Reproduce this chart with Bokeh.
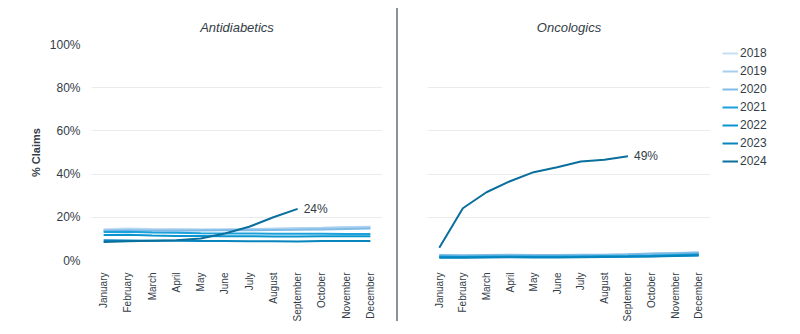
from bokeh.plotting import figure
from bokeh.models import (FactorRange, Range1d, FixedTicker, PrintfTickFormatter,
                          Legend, LegendItem, Div)
from bokeh.core.properties import value
from bokeh.layouts import row
from bokeh.embed import file_html
from bokeh.resources import INLINE
import math

months = ["January", "February", "March", "April", "May", "June", "July",
          "August", "September", "October", "November", "December"]
years = ["2018", "2019", "2020", "2021", "2022", "2023", "2024"]
colors = ["#c6def2", "#a7cfee", "#80bbe6", "#1ba1dc", "#0a94cf", "#0885bd", "#0a6f9c"]

anti_2018 = [14.5, 14.8, 14.6, 14.5, 14.4, 14.5, 14.6, 14.8, 15.0, 15.2, 15.5, 15.6]
anti_2019 = [14.0, 14.3, 14.2, 14.3, 14.2, 14.3, 14.5, 14.6, 14.8, 15.0, 15.3, 15.4]
anti_2020 = [13.8, 13.9, 13.8, 13.8, 13.9, 14.0, 14.0, 14.1, 14.2, 14.4, 14.6, 14.8]
anti_2021 = [13.2, 13.3, 13.0, 12.8, 12.6, 12.5, 12.5, 12.4, 12.4, 12.4, 12.3, 12.3]
anti_2022 = [11.8, 11.9, 11.6, 11.4, 11.3, 11.2, 11.2, 11.1, 11.1, 11.2, 11.2, 11.2]
anti_2023 = [9.4, 9.3, 9.2, 9.1, 9.0, 9.0, 8.9, 8.9, 8.8, 9.0, 9.0, 9.0]
anti_2024 = [8.6, 8.9, 9.2, 9.4, 10.2, 12.5, 15.6, 20.0, 23.9]

onc_2018 = [2.0, 1.9, 2.0, 2.1, 2.0, 2.0, 2.1, 2.2, 2.3, 2.5, 3.0, 3.5]
onc_2019 = [2.3, 2.2, 2.3, 2.4, 2.3, 2.3, 2.4, 2.5, 2.8, 3.1, 3.5, 3.8]
onc_2020 = [2.5, 2.4, 2.6, 2.7, 2.5, 2.5, 2.7, 2.7, 2.9, 3.2, 3.4, 3.6]
onc_2021 = [1.8, 1.7, 1.8, 1.9, 1.8, 1.8, 1.9, 2.0, 2.1, 2.3, 2.6, 2.9]
onc_2022 = [1.5, 1.5, 1.6, 1.7, 1.6, 1.6, 1.7, 1.8, 1.9, 2.0, 2.2, 2.4]
onc_2023 = [1.3, 1.3, 1.4, 1.5, 1.4, 1.4, 1.5, 1.6, 1.7, 1.9, 2.1, 2.3]
onc_2024 = [5.9, 24.2, 31.6, 36.7, 40.9, 43.2, 45.8, 46.6, 48.3]

y_ticks = [0, 20, 40, 60, 80, 100]
anti_label = "24%"
onc_label = "49%"

anti = [anti_2018, anti_2019, anti_2020, anti_2021, anti_2022, anti_2023, anti_2024]
onc = [onc_2018, onc_2019, onc_2020, onc_2021, onc_2022, onc_2023, onc_2024]

FONT = "Liberation Sans"
TXT = "#333d47"


def make_fig(title, left_border, right_border, frame_w, show_y):
    p = figure(x_range=FactorRange(*months), y_range=Range1d(0, 100),
               frame_width=frame_w, frame_height=216,
               min_border_left=left_border, min_border_right=right_border,
               min_border_top=44, min_border_bottom=74,
               output_backend="svg", toolbar_location=None, title=title)
    p.title.text_font = FONT
    p.title.text_font_style = "italic"
    p.title.text_font_size = "13px"
    p.title.text_color = TXT
    p.title.align = "center"
    p.title.standoff = 19
    p.outline_line_color = None
    p.background_fill_color = "white"
    p.border_fill_color = "white"
    p.xgrid.grid_line_color = None
    p.ygrid.grid_line_color = "#e9ecef"
    p.ygrid.grid_line_width = 1
    p.ygrid.ticker = FixedTicker(ticks=y_ticks)
    p.yaxis.ticker = FixedTicker(ticks=y_ticks)
    p.yaxis.formatter = PrintfTickFormatter(format="%d%%")
    p.yaxis.axis_line_color = None
    p.yaxis.major_tick_line_color = None
    p.yaxis.minor_tick_line_color = None
    p.yaxis.major_label_text_font = FONT
    p.yaxis.major_label_text_font_size = "12px"
    p.yaxis.major_label_text_color = TXT
    p.yaxis.major_label_standoff = 5
    if show_y:
        p.yaxis.axis_label = "% Claims"
        p.yaxis.axis_label_text_font = FONT
        p.yaxis.axis_label_text_font_style = "bold"
        p.yaxis.axis_label_text_font_size = "11px"
        p.yaxis.axis_label_text_color = TXT
        p.yaxis.axis_label_standoff = 5
    else:
        p.yaxis.visible = False
    p.xaxis.axis_line_color = None
    p.xaxis.major_tick_line_color = None
    p.xaxis.minor_tick_line_color = None
    p.xaxis.major_label_orientation = math.pi / 2
    p.xaxis.major_label_text_font = FONT
    p.xaxis.major_label_text_font_size = "10px"
    p.xaxis.major_label_text_color = TXT
    p.xaxis.major_label_standoff = 6
    return p


def end_label(p, series, text):
    p.text(x=[months[len(series) - 1]], y=[series[-1]], text=[text],
           x_offset=6, y_offset=0, text_font=value(FONT), text_font_size="12px",
           text_color=TXT, text_baseline="middle", text_align="left")


p1 = make_fig("Antidiabetics", 91, 15, 291, True)
for vals, c in zip(anti, colors):
    p1.line(months[:len(vals)], vals, line_color=c, line_width=2)
end_label(p1, anti_2024, anti_label)

p2 = make_fig("Oncologics", 27, 90, 283, False)
items = []
for vals, c, yr in zip(onc, colors, years):
    r = p2.line(months[:len(vals)], vals, line_color=c, line_width=2)
    items.append(LegendItem(label=yr, renderers=[r]))
end_label(p2, onc_2024, onc_label)

legend = Legend(items=items, location=(12, 92))
legend.border_line_color = None
legend.background_fill_alpha = 0
legend.label_text_font = FONT
legend.label_text_font_size = "12px"
legend.label_text_color = TXT
legend.glyph_width = 16
legend.glyph_height = 12
legend.label_height = 12
legend.spacing = 4
legend.padding = 0
legend.margin = 0
legend.label_standoff = 2
legend.label_text_baseline = "middle"
p2.add_layout(legend, "right")

sep = Div(width=3, height=334, margin=0,
          styles={"box-sizing": "border-box", "padding-top": "8px"},
          text='<div style="width:1.5px;height:313px;background:#8a9299;margin-left:-1px"></div>')

layout = row(p1, sep, p2)
open("out.html", "w").write(file_html(layout, INLINE))
